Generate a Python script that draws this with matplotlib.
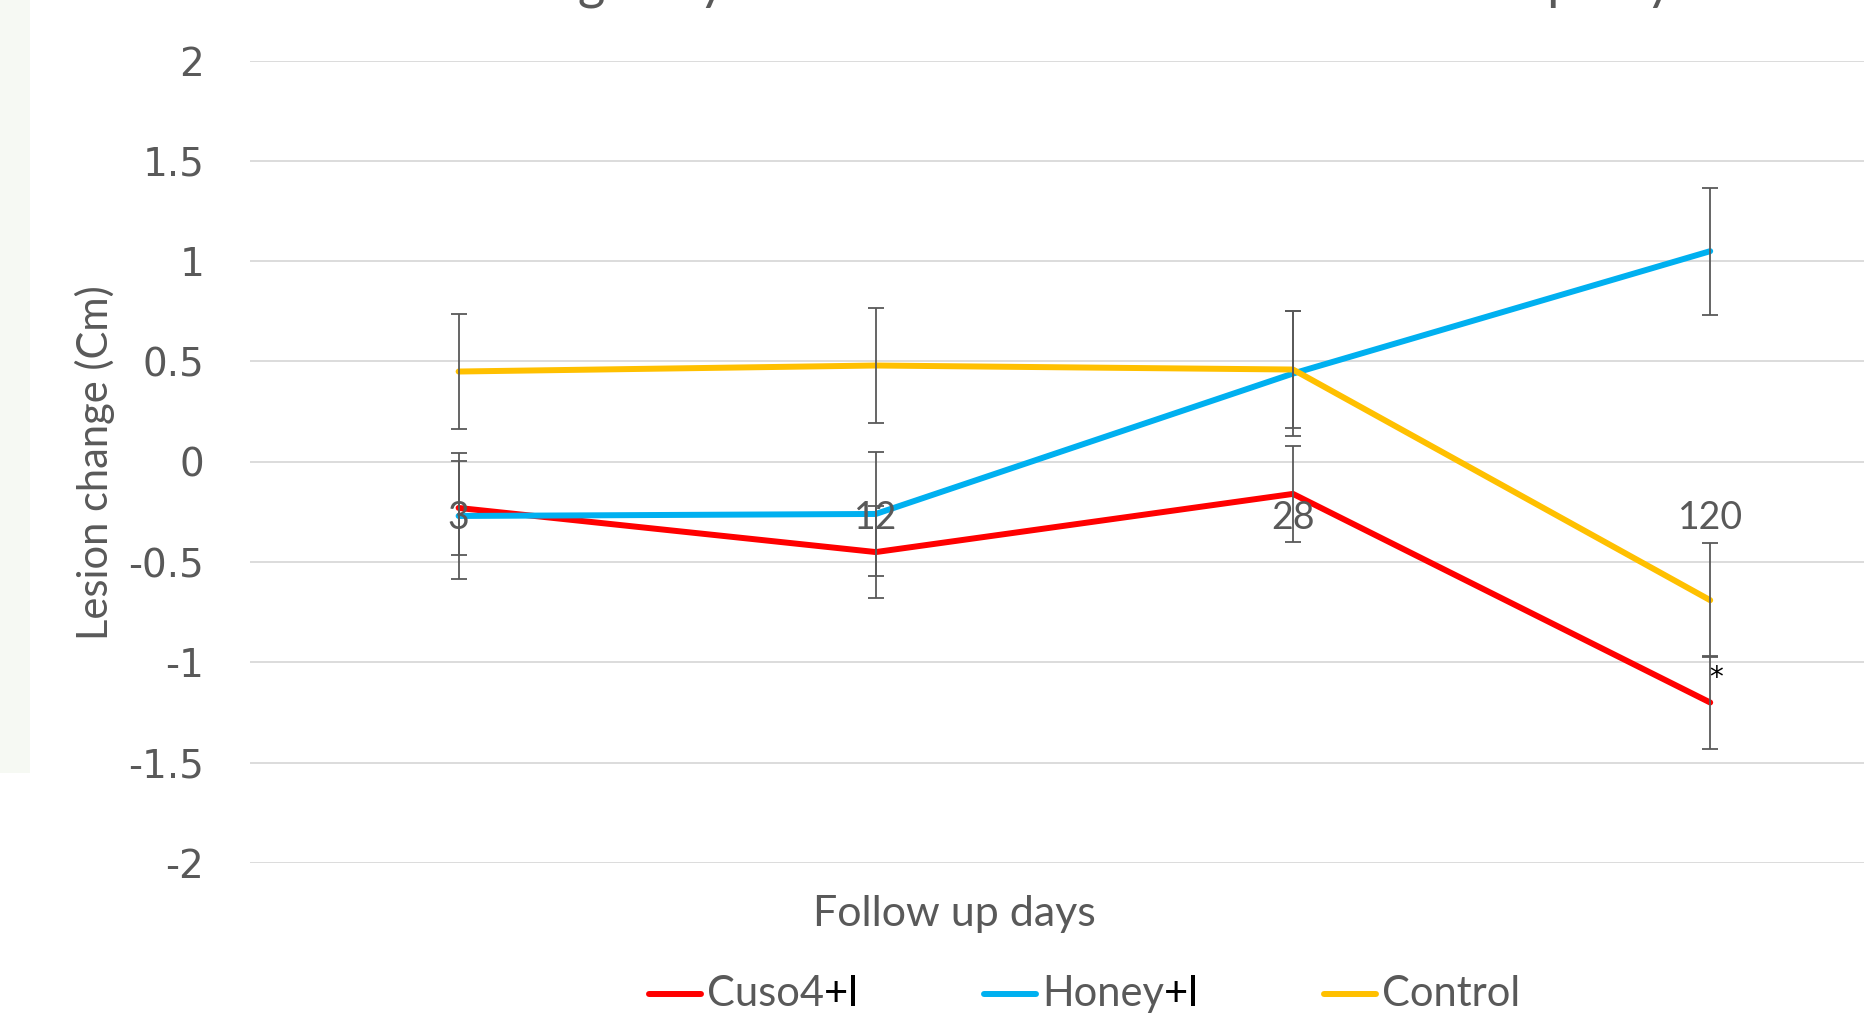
import matplotlib
matplotlib.use('Agg')
import matplotlib.pyplot as plt
from matplotlib.patches import Rectangle
from matplotlib.lines import Line2D
from matplotlib.ticker import FuncFormatter

# ── Data ───────────────────────────────────────────────────────────────────────
days = ['3', '12', '28', '120']
series_names = ['Cuso4', 'Honey', 'Control']
series_suffix = ['+I', '+I', '']

cuso4   = [-0.23, -0.45, -0.16, -1.20]
honey   = [-0.27, -0.26,  0.44,  1.05]
control = [ 0.45,  0.48,  0.46, -0.69]

cuso4_err   = [0.235, 0.23, 0.24, 0.23]
honey_err   = [0.315, 0.31, 0.31, 0.317]
control_err = [0.288, 0.287, 0.29, 0.284]

colors = ['#FF0000', '#00B0F0', '#FFC000']
title = 'Lesion changes by treatment at the end of all follow up days'

GRAY = '#595959'
W, H = 1864, 1018

fig = plt.figure(figsize=(W / 100, H / 100), dpi=100)
fig.patches.append(Rectangle((0, 1 - 773 / H), 30 / W, 773 / H, transform=fig.transFigure,
                             facecolor='#F6F9F3', edgecolor='none', zorder=0))

ax = fig.add_axes([250 / W, 1 - 863 / H, 1668.8 / W, (863 - 60.6) / H])
x = list(range(len(days)))

for vals, errs, c in zip([cuso4, honey, control], [cuso4_err, honey_err, control_err], colors):
    ax.plot(x, vals, color=c, linewidth=4.3, solid_capstyle='round', zorder=3)
    ax.errorbar(x, vals, yerr=errs, fmt='none', ecolor=GRAY, elinewidth=1.3,
                capsize=6, capthick=1.3, zorder=4)

ax.set_xlim(-0.5, len(days) - 0.5)
ax.set_ylim(-2, 2)
ax.set_yticks([2, 1.5, 1, 0.5, 0, -0.5, -1, -1.5, -2])
ax.yaxis.set_major_formatter(FuncFormatter(lambda v, p: f'{v:g}'))
ax.set_xticks([])
ax.grid(axis='y', color='#D9D9D9', linewidth=1.3)
ax.set_axisbelow(True)
for s in ax.spines.values():
    s.set_visible(False)
ax.tick_params(axis='y', length=0, pad=33, labelsize=28, labelcolor=GRAY)

# category labels sit next to the zero line
for i, d in enumerate(days):
    ax.text(i, -0.28, d, ha='center', va='center', fontsize=27, color=GRAY,
            family='Lato', zorder=5)

ax.text(3.015, -1.08, '*', ha='center', va='center', fontsize=20, color='black', zorder=5)

fig.text(95 / W, 1 - 463 / H, 'Lesion change (Cm)', rotation=90, ha='center', va='center',
         fontsize=30, color=GRAY, family='Lato')
fig.text(954 / W, 1 - 769 * 1.1888 / H, 'Follow up days', ha='center', va='center',
         fontsize=31, color=GRAY, family='Lato')
fig.text(1000 / W, 1.0 + 2 / H, title, ha='center', va='baseline', fontsize=38, color=GRAY,
         family='Lato')

# ── Legend (mixed colour labels) ───────────────────────────────────────────────
fig.canvas.draw()
renderer = fig.canvas.get_renderer()
leg_y = 1 - 994 / H
line_len, gap, entry_gap = 52, 6, 124
pieces = []
xpos = 0
for name, suf, c in zip(series_names, series_suffix, colors):
    t1 = fig.text(0, leg_y, name, fontsize=30, color=GRAY, family='Lato', va='center')
    w1 = t1.get_window_extent(renderer).width
    w2 = 0
    t2 = None
    if suf:
        t2 = fig.text(0, leg_y, suf, fontsize=30, color='black', family='Lato', va='center')
        w2 = t2.get_window_extent(renderer).width
    pieces.append((xpos, c, t1, w1, t2))
    xpos += line_len + gap + w1 + w2 + entry_gap
total = xpos - entry_gap
start = (250 + 1668.8 / 2) - total / 2
for off, c, t1, w1, t2 in pieces:
    x0 = start + off
    fig.lines.append(Line2D([x0 / W, (x0 + line_len) / W], [leg_y, leg_y], transform=fig.transFigure,
                            color=c, linewidth=4.3, solid_capstyle='round'))
    t1.set_x((x0 + line_len + gap) / W)
    if t2 is not None:
        t2.set_x((x0 + line_len + gap + w1) / W)

fig.savefig('out.png', dpi=100)
